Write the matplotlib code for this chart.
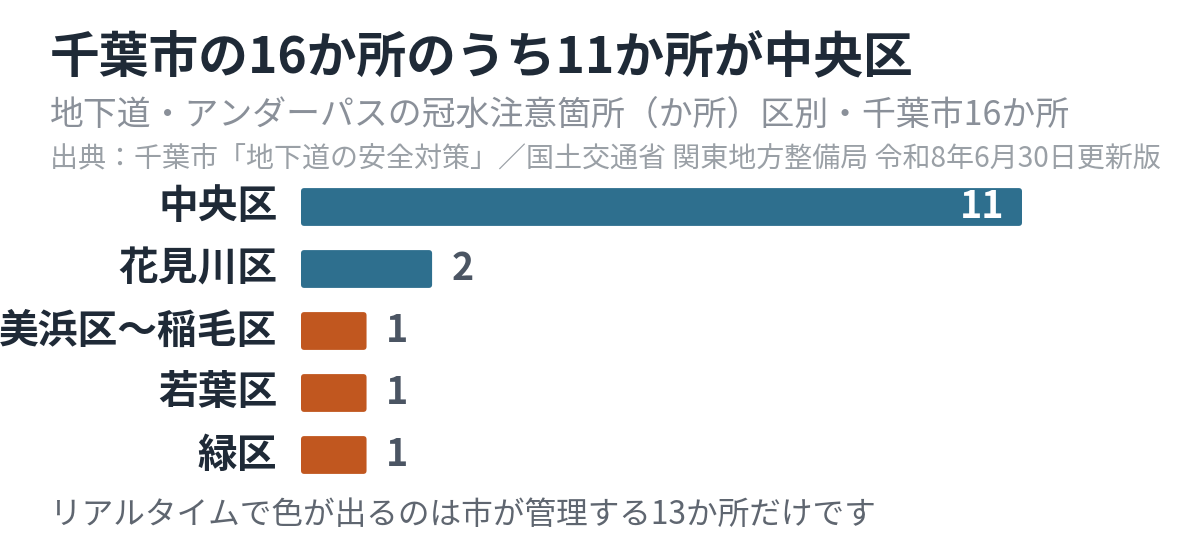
import matplotlib
matplotlib.use("Agg")
import matplotlib.pyplot as plt
from matplotlib.patches import FancyBboxPatch

plt.rcParams['font.family'] = ['Noto Sans CJK JP', 'DejaVu Sans']

# data
wards = ["中央区", "花見川区", "美浜区〜稲毛区", "若葉区", "緑区"]
counts = [11, 2, 1, 1, 1]
colors = ["#2e6f8e", "#2e6f8e", "#c1571f", "#c1571f", "#c1571f"]

title = "千葉市の16か所のうち11か所が中央区"
subtitle = "地下道・アンダーパスの冠水注意箇所（か所）区別・千葉市16か所"
source = "出典：千葉市「地下道の安全対策」／国土交通省 関東地方整備局 令和8年6月30日更新版"
note = "リアルタイムで色が出るのは市が管理する13か所だけです"

W, H = 1200, 560
fig = plt.figure(figsize=(W / 100, H / 100), dpi=100)
fig.patch.set_facecolor("white")

# axes placed in pixel terms
left, right = 301, 1022
top, bottom = 176, 486
ax = fig.add_axes([left / W, 1 - bottom / H, (right - left) / W, (bottom - top) / H])
ax.set_xlim(0, max(counts))
ax.set_ylim(len(wards) - 0.5, -0.5)
ax.axis("off")

bh = 0.61
for i, (w, c, col) in enumerate(zip(wards, counts, colors)):
    p = FancyBboxPatch((0, i - bh / 2), c, bh,
                       boxstyle="round,pad=0,rounding_size=0.05",
                       mutation_aspect=1.06, facecolor=col, edgecolor="none")
    ax.add_patch(p)
    ax.text(-0.36, i, w, ha="right", va="center", fontsize=28.6,
            fontweight="bold", color="#1f2a37")
    if c == max(counts):
        ax.text(c - 0.27, i, str(c), ha="right", va="center", fontsize=27,
                fontweight="bold", color="white")
    else:
        ax.text(c + 0.3, i, str(c), ha="left", va="center", fontsize=27,
                fontweight="bold", color="#4b5563")

fig.text(50 / W, 1 - 58 / H, title, ha="left", va="center", fontsize=35.8,
         fontweight="bold", color="#1f2a37")
fig.text(50 / W, 1 - 115 / H, subtitle, ha="left", va="center", fontsize=24.4,
         color="#8a9099")
fig.text(50 / W, 1 - 158 / H, source, ha="left", va="center", fontsize=20.2,
         color="#9aa0a6")
fig.text(50 / W, 1 - 515 / H, note, ha="left", va="center", fontsize=22.8,
         color="#5f6670")

fig.savefig("out.png", dpi=100)
